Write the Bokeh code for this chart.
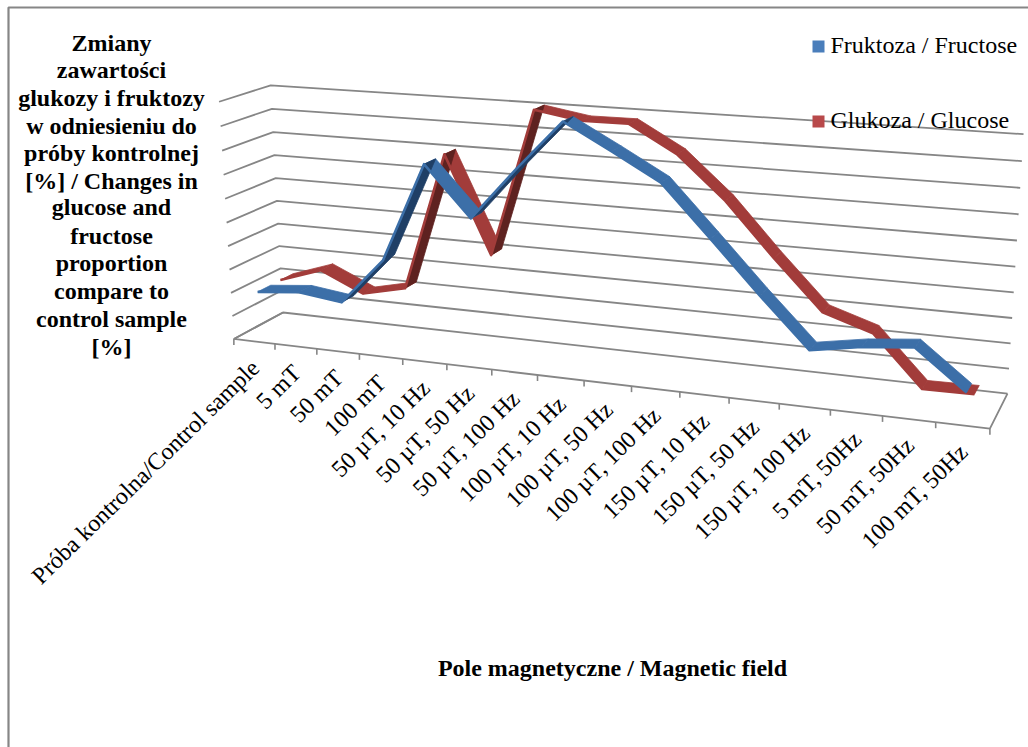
import numpy as np
from bokeh.plotting import figure
from bokeh.embed import file_html
from bokeh.resources import INLINE
from bokeh.core.properties import value

categories = ["Próba kontrolna/Control sample", "5 mT", "50 mT", "100 mT", "50 µT, 10 Hz", "50 µT, 50 Hz",
              "50 µT, 100 Hz", "100 µT, 10 Hz", "100 µT, 50 Hz", "100 µT, 100 Hz", "150 µT, 10 Hz",
              "150 µT, 50 Hz", "150 µT, 100 Hz", "5 mT, 50Hz", "50 mT, 50Hz", "100 mT, 50Hz"]
fructose = [2.01, 2.19, 1.95, 3.9, 7.98, 5.96, 8.07, 10.05, 9.04, 7.99, 6.0, 3.98, 2.06, 2.4, 2.6, 1.1]
glucose = [2.02, 2.64, 1.81, 2.23, 8.0, 4.0, 10.05, 9.74, 9.75, 8.7, 7.03, 4.95, 3.0, 2.38, 0.39, 0.42]
series_names = ["Fruktoza / Fructose", "Glukoza / Glucose"]
levels = list(range(11))
y_title = ["Zmiany", "zawartości", "glukozy i fruktozy", "w odniesieniu do", "próby kontrolnej",
           "[%] / Changes in", "glucose and", "fructose", "proportion", "compare to", "control sample", "[%]"]
x_title = "Pole magnetyczne / Magnetic field"

# perspective camera of the 3-D box, fitted on its corners: (category, level, depth) -> page pixel
calib = [((0, 0, 0), (234, 338)), ((16, 0, 0), (989, 429)), ((0, 0, 1), (282, 312)), ((16, 0, 1), (1007, 393)),
         ((0, 10, 0), (219, 101)), ((0, 10, 1), (270, 85)), ((16, 10, 1), (1023, 134)), ((8, 0, 0), (584, 380)),
         ((0, 5, 0), (225, 222)), ((0, 5, 1), (277, 201)), ((16, 5, 1), (1015, 265))]
A, b = [], []
for (u, v, w), (sx, sy) in calib:
    A.append([u, v, w, 1, 0, 0, 0, 0, -sx * u, -sx * v, -sx * w]); b.append(sx)
    A.append([0, 0, 0, 0, u, v, w, 1, -sy * u, -sy * v, -sy * w]); b.append(sy)
m = np.linalg.lstsq(np.array(A, float), np.array(b, float), rcond=None)[0]


def proj(u, v, w):
    d = m[8] * u + m[9] * v + m[10] * w + 1
    return (m[0] * u + m[1] * v + m[2] * w + m[3]) / d, (m[4] * u + m[5] * v + m[6] * w + m[7]) / d


GRID = "#868686"
SERIF = value("Liberation Serif")
p = figure(width=1028, height=747, x_range=(0, 1028), y_range=(747, 0), output_backend="svg",
           toolbar_location=None, min_border=0, outline_line_color=None)
p.axis.visible = False
p.grid.visible = False

# chart border (left and top only)
p.line([8, 8, 1028], [747, 7, 7], line_color=GRID, line_width=2.2)

# gridlines on the two walls
gx, gy = [], []
for lv in levels:
    pts = [proj(0, lv, 0), proj(0, lv, 1), proj(16, lv, 1)]
    gx.append([q[0] for q in pts]); gy.append([q[1] for q in pts])
p.multi_line(gx, gy, line_color=GRID, line_width=1.8)
# floor outline
pts = [proj(0, 0, 1), proj(0, 0, 0), proj(16, 0, 0), proj(16, 0, 1)]
p.line([q[0] for q in pts], [q[1] for q in pts], line_color=GRID, line_width=1.8)
# ticks
tx, ty = [], []
for i in range(len(categories) + 1):
    a = proj(i, 0, 0)
    tx.append([a[0], a[0]]); ty.append([a[1], a[1] + 6])
p.multi_line(tx, ty, line_color=GRID, line_width=1.6)


def ribbon(vals, z0, z1, top, under):
    xs_top, ys_top, xs_un, ys_un = [], [], [], []
    for i in range(len(vals) - 1):
        c = [proj(i + .5, vals[i], z0), proj(i + 1.5, vals[i + 1], z0),
             proj(i + 1.5, vals[i + 1], z1), proj(i + .5, vals[i], z1)]
        x = [q[0] for q in c]; y = [q[1] for q in c]
        area = sum(x[k] * y[(k + 1) % 4] - x[(k + 1) % 4] * y[k] for k in range(4))
        if area > 0:
            xs_un.append(x); ys_un.append(y)
        else:
            xs_top.append(x); ys_top.append(y)
    for xs, ys, col in ((xs_top, ys_top, top), (xs_un, ys_un, under)):
        if xs:
            p.patches(xs, ys, fill_color=col, line_color=col, line_width=.8)
    # lighter front band of the ribbon, seen on the steep rising stretches
    e = [proj(i + .5, vals[i], z0) for i in range(len(vals))]
    p.line([q[0] for q in e], [q[1] for q in e], line_color=top, line_width=2.6, line_join="round")


ribbon(glucose, 0.58, 0.84, "#a23c3a", "#5e2220")
ribbon(fructose, 0.12, 0.38, "#3c6fa8", "#1f3f66")

# category labels
lx, ly = [], []
for i in range(len(categories)):
    a = proj(i + .5, 0, 0)
    lx.append(a[0] + 1); ly.append(a[1] + 22.5)
p.text(lx, ly, text=categories, angle=44.5, angle_units="deg", text_align="right", text_baseline="middle",
       text_font=SERIF, text_font_size="24px", text_color="#000000")

# y title
yy = [42, 69, 97, 125, 152, 180, 206, 235, 262, 290, 318, 346]
p.text([111] * len(y_title), yy, text=y_title, text_align="center", text_baseline="middle", text_font=SERIF,
       text_font_size="24px", text_font_style="bold", text_color="#000000")
# x title
p.text([612], [667], text=[x_title], text_align="center", text_baseline="middle", text_font=SERIF,
       text_font_size="24px", text_font_style="bold", text_color="#000000")

# legend
p.quad(left=[812, 812], right=[824, 824], top=[40, 115], bottom=[52, 127],
       fill_color=["#4a7ebb", "#b8494a"], line_color=None)
p.text([830, 830], [44, 119], text=series_names, text_align="left", text_baseline="middle", text_font=SERIF,
       text_font_size="24px", text_color="#000000")

open("out.html", "w").write(file_html(p, INLINE))
